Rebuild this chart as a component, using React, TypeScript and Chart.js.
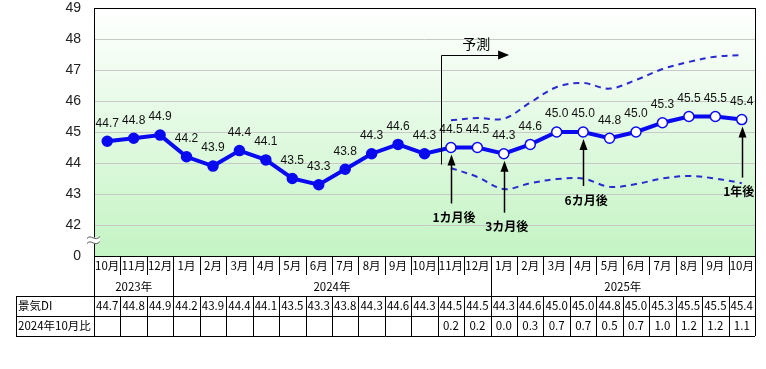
import React, { useEffect, useRef } from "react";
import { Chart, registerables } from "chart.js";

Chart.register(...registerables);

const months = [
  "10月", "11月", "12月",
  "1月", "2月", "3月", "4月", "5月", "6月", "7月", "8月", "9月", "10月", "11月", "12月",
  "1月", "2月", "3月", "4月", "5月", "6月", "7月", "8月", "9月", "10月",
];
const yearLabels = ["2023年", "2024年", "2025年"];
const yearStarts = [0, 3, 15];
const diValues = [
  44.7, 44.8, 44.9, 44.2, 43.9, 44.4, 44.1, 43.5, 43.3, 43.8, 44.3, 44.6, 44.3,
  44.5, 44.5, 44.3, 44.6, 45.0, 45.0, 44.8, 45.0, 45.3, 45.5, 45.5, 45.4,
];
const ratioValues = [
  "", "", "", "", "", "", "", "", "", "", "", "", "",
  "0.2", "0.2", "0.0", "0.3", "0.7", "0.7", "0.5", "0.7", "1.0", "1.2", "1.2", "1.1",
];
const upperBand = [
  null, null, null, null, null, null, null, null, null, null, null, null, null,
  45.38, 45.45, 45.43, 45.95, 46.45, 46.58, 46.4, 46.68, 47.03, 47.26, 47.43, 47.48,
];
const lowerBand = [
  null, null, null, null, null, null, null, null, null, null, null, null, null,
  43.84, 43.55, 43.16, 43.35, 43.48, 43.5, 43.23, 43.32, 43.5, 43.58, 43.5, 43.35,
];
const actualCount = 13;
const yTicks = [41, 42, 43, 44, 45, 46, 47, 48, 49];
const rowHeaders = ["景気DI", "2024年10月比"];
const arrowNotes = [
  { index: 13, label: "1カ月後", drop: 70 },
  { index: 15, label: "3カ月後", drop: 73 },
  { index: 18, label: "6カ月後", drop: 68 },
  { index: 24, label: "1年後", drop: 72 },
];
const forecastLabel = "予測";

const JP = '"Noto Sans CJK JP", "Noto Sans", sans-serif';

function drawUpArrow(ctx: CanvasRenderingContext2D, x: number, tipY: number, tailY: number) {
  ctx.save();
  ctx.strokeStyle = "#000";
  ctx.fillStyle = "#000";
  ctx.lineWidth = 1.5;
  ctx.beginPath();
  ctx.moveTo(x, tailY);
  ctx.lineTo(x, tipY + 8);
  ctx.stroke();
  ctx.beginPath();
  ctx.moveTo(x, tipY);
  ctx.lineTo(x - 4, tipY + 11);
  ctx.lineTo(x + 4, tipY + 11);
  ctx.closePath();
  ctx.fill();
  ctx.restore();
}

const overlayPlugin = {
  id: "overlay",
  beforeDraw(chart: any) {
    const { ctx, chartArea } = chart;
    const { left, right, top, bottom } = chartArea;
    ctx.save();
    ctx.fillStyle = "#fff";
    ctx.fillRect(0, 0, chart.width, chart.height);
    const g = ctx.createLinearGradient(0, top, 0, bottom);
    g.addColorStop(0, "#ffffff");
    g.addColorStop(1, "#c4f4c4");
    ctx.fillStyle = g;
    ctx.fillRect(left, top, right - left, bottom - top);
    ctx.restore();
  },
  afterDatasetsDraw(chart: any) {
    const { ctx } = chart;
    const meta = chart.getDatasetMeta(0);
    ctx.save();
    ctx.font = '12px "Liberation Sans", Arial, sans-serif';
    ctx.fillStyle = "#111";
    ctx.textAlign = "center";
    ctx.textBaseline = "middle";
    meta.data.forEach((pt: any, i: number) => {
      ctx.fillText(diValues[i].toFixed(1), pt.x, pt.y - 18);
    });
    ctx.restore();
  },
  afterDraw(chart: any) {
    const { ctx, chartArea, scales } = chart;
    const { left, right, top, bottom } = chartArea;
    const xs = scales.x;
    const ys = scales.y;
    const n = months.length;
    const colW = (right - left) / n;
    const h = (v: number) => Math.round(v) + 0.5;

    ctx.save();
    ctx.strokeStyle = "#000";
    ctx.lineWidth = 1;
    ctx.strokeRect(h(left), h(top), Math.round(right - left), Math.round(bottom - top));

    const monthBottom = bottom + 19;
    const yearBottom = bottom + 40;
    const row1Bottom = bottom + 60;
    const row2Bottom = bottom + 80;
    const tableLeft = 16;
    ctx.beginPath();
    ctx.moveTo(h(left), bottom);
    ctx.lineTo(h(left), row2Bottom);
    ctx.moveTo(h(right), bottom);
    ctx.lineTo(h(right), row2Bottom);
    for (let k = 1; k < n; k++) {
      const bx = h(left + k * colW);
      if (yearStarts.includes(k)) {
        ctx.moveTo(bx, bottom);
        ctx.lineTo(bx, row2Bottom);
      } else {
        ctx.moveTo(bx, bottom);
        ctx.lineTo(bx, monthBottom);
        ctx.moveTo(bx, yearBottom);
        ctx.lineTo(bx, row2Bottom);
      }
    }
    [yearBottom, row1Bottom, row2Bottom].forEach((yy) => {
      ctx.moveTo(tableLeft, h(yy));
      ctx.lineTo(right, h(yy));
    });
    ctx.moveTo(h(tableLeft), h(yearBottom));
    ctx.lineTo(h(tableLeft), h(row2Bottom));
    ctx.stroke();

    ctx.fillStyle = "#000";
    ctx.textBaseline = "middle";
    ctx.textAlign = "center";
    ctx.font = `11.5px ${JP}`;
    months.forEach((m, i) => {
      const cx = xs.getPixelForValue(i);
      ctx.fillText(m, cx, bottom + 10);
      ctx.fillText(diValues[i].toFixed(1), cx, yearBottom + 10);
      if (ratioValues[i]) ctx.fillText(ratioValues[i], cx, row1Bottom + 10);
    });
    yearLabels.forEach((yl, j) => {
      const s = yearStarts[j];
      const e = j + 1 < yearStarts.length ? yearStarts[j + 1] - 1 : n - 1;
      const cx = (xs.getPixelForValue(s) + xs.getPixelForValue(e)) / 2;
      ctx.fillText(yl, cx, bottom + 31);
    });
    ctx.textAlign = "left";
    ctx.font = `11.5px ${JP}`;
    ctx.fillText(rowHeaders[0], tableLeft + 2, yearBottom + 10);
    ctx.fillText(rowHeaders[1], tableLeft + 2, row1Bottom + 10);

    const by = ys.getPixelForValue(41.5);
    ctx.fillStyle = "#fff";
    ctx.fillRect(left - 6, by - 3, 12, 6);
    ctx.strokeStyle = "#555";
    ctx.lineWidth = 1;
    [-3, 2].forEach((d) => {
      ctx.beginPath();
      ctx.moveTo(left - 7, by + d + 1);
      ctx.bezierCurveTo(left - 3, by + d - 4, left + 1, by + d + 5, left + 6, by + d - 1);
      ctx.stroke();
    });

    const fx = Math.round(xs.getPixelForValue(12.63)) + 0.5;
    const fTop = ys.getPixelForValue(47.5);
    const fBottom = ys.getPixelForValue(43.95);
    const fEnd = xs.getPixelForValue(15.2);
    ctx.strokeStyle = "#000";
    ctx.fillStyle = "#000";
    ctx.lineWidth = 1;
    ctx.beginPath();
    ctx.moveTo(fx, fBottom);
    ctx.lineTo(fx, Math.round(fTop) + 0.5);
    ctx.lineTo(fEnd - 8, Math.round(fTop) + 0.5);
    ctx.stroke();
    ctx.beginPath();
    ctx.moveTo(fEnd, fTop + 0.5);
    ctx.lineTo(fEnd - 11, fTop - 4);
    ctx.lineTo(fEnd - 11, fTop + 5);
    ctx.closePath();
    ctx.fill();
    ctx.font = `14px ${JP}`;
    ctx.textAlign = "center";
    ctx.fillText(forecastLabel, (fx + fEnd) / 2 + 1, fTop - 11);

    ctx.font = `bold 12px ${JP}`;
    arrowNotes.forEach((a) => {
      const px = xs.getPixelForValue(a.index);
      const py = ys.getPixelForValue(diValues[a.index]);
      drawUpArrow(ctx, Math.round(px) + 0.5, py + 7, py + a.drop - 14);
      ctx.fillStyle = "#000";
      ctx.textAlign = "center";
      const tx = a.index === n - 1 ? px - 3 : px + 3;
      ctx.fillText(a.label, tx, py + a.drop);
    });
    ctx.restore();
  },
};

export default function App() {
  const ref = useRef<HTMLCanvasElement | null>(null);
  useEffect(() => {
    if (!ref.current) return;
    const blue = "#0a0af0";
    const chart = new Chart(ref.current, {
      type: "line",
      data: {
        labels: months,
        datasets: [
          {
            data: diValues,
            borderColor: blue,
            borderWidth: 4,
            pointRadius: 5,
            pointBorderWidth: 1.5,
            pointBorderColor: blue,
            pointBackgroundColor: diValues.map((_, i) => (i < actualCount ? blue : "#ffffff")),
            tension: 0,
            order: 0,
          },
          {
            data: upperBand,
            borderColor: "#2a2ad0",
            borderWidth: 2,
            borderDash: [6, 5],
            pointRadius: 0,
            tension: 0.35,
            order: 1,
          },
          {
            data: lowerBand,
            borderColor: "#2a2ad0",
            borderWidth: 2,
            borderDash: [6, 5],
            pointRadius: 0,
            tension: 0.35,
            order: 1,
          },
        ],
      },
      options: {
        responsive: false,
        animation: false,
        devicePixelRatio: 1,
        layout: { padding: { top: 8, left: 0, right: 11, bottom: 113 } },
        plugins: { legend: { display: false }, tooltip: { enabled: false } },
        scales: {
          x: { type: "category", display: false, offset: true, grid: { display: false } },
          y: {
            min: 41,
            max: 49,
            afterBuildTicks: (s: any) => {
              s.ticks = yTicks.map((v) => ({ value: v }));
            },
            afterFit: (s: any) => {
              s.width = 94;
              s.paddingTop = 0;
              s.paddingBottom = 0;
            },
            border: { display: false },
            grid: { color: "#c8c8c8", drawTicks: false, lineWidth: 1 },
            ticks: {
              padding: 13,
              color: "#222",
              font: { family: '"Liberation Sans", Arial, sans-serif', size: 14 },
              callback: (v: any) => (v === 41 ? "0" : String(v)),
            },
          },
        },
      },
      plugins: [overlayPlugin],
    });
    return () => chart.destroy();
  }, []);
  return (
    <div style={{ position: "fixed", left: 0, top: 0, width: 766, height: 369, background: "#fff" }}>
      <canvas ref={ref} width={766} height={369} style={{ display: "block", width: 766, height: 369 }} />
    </div>
  );
}
